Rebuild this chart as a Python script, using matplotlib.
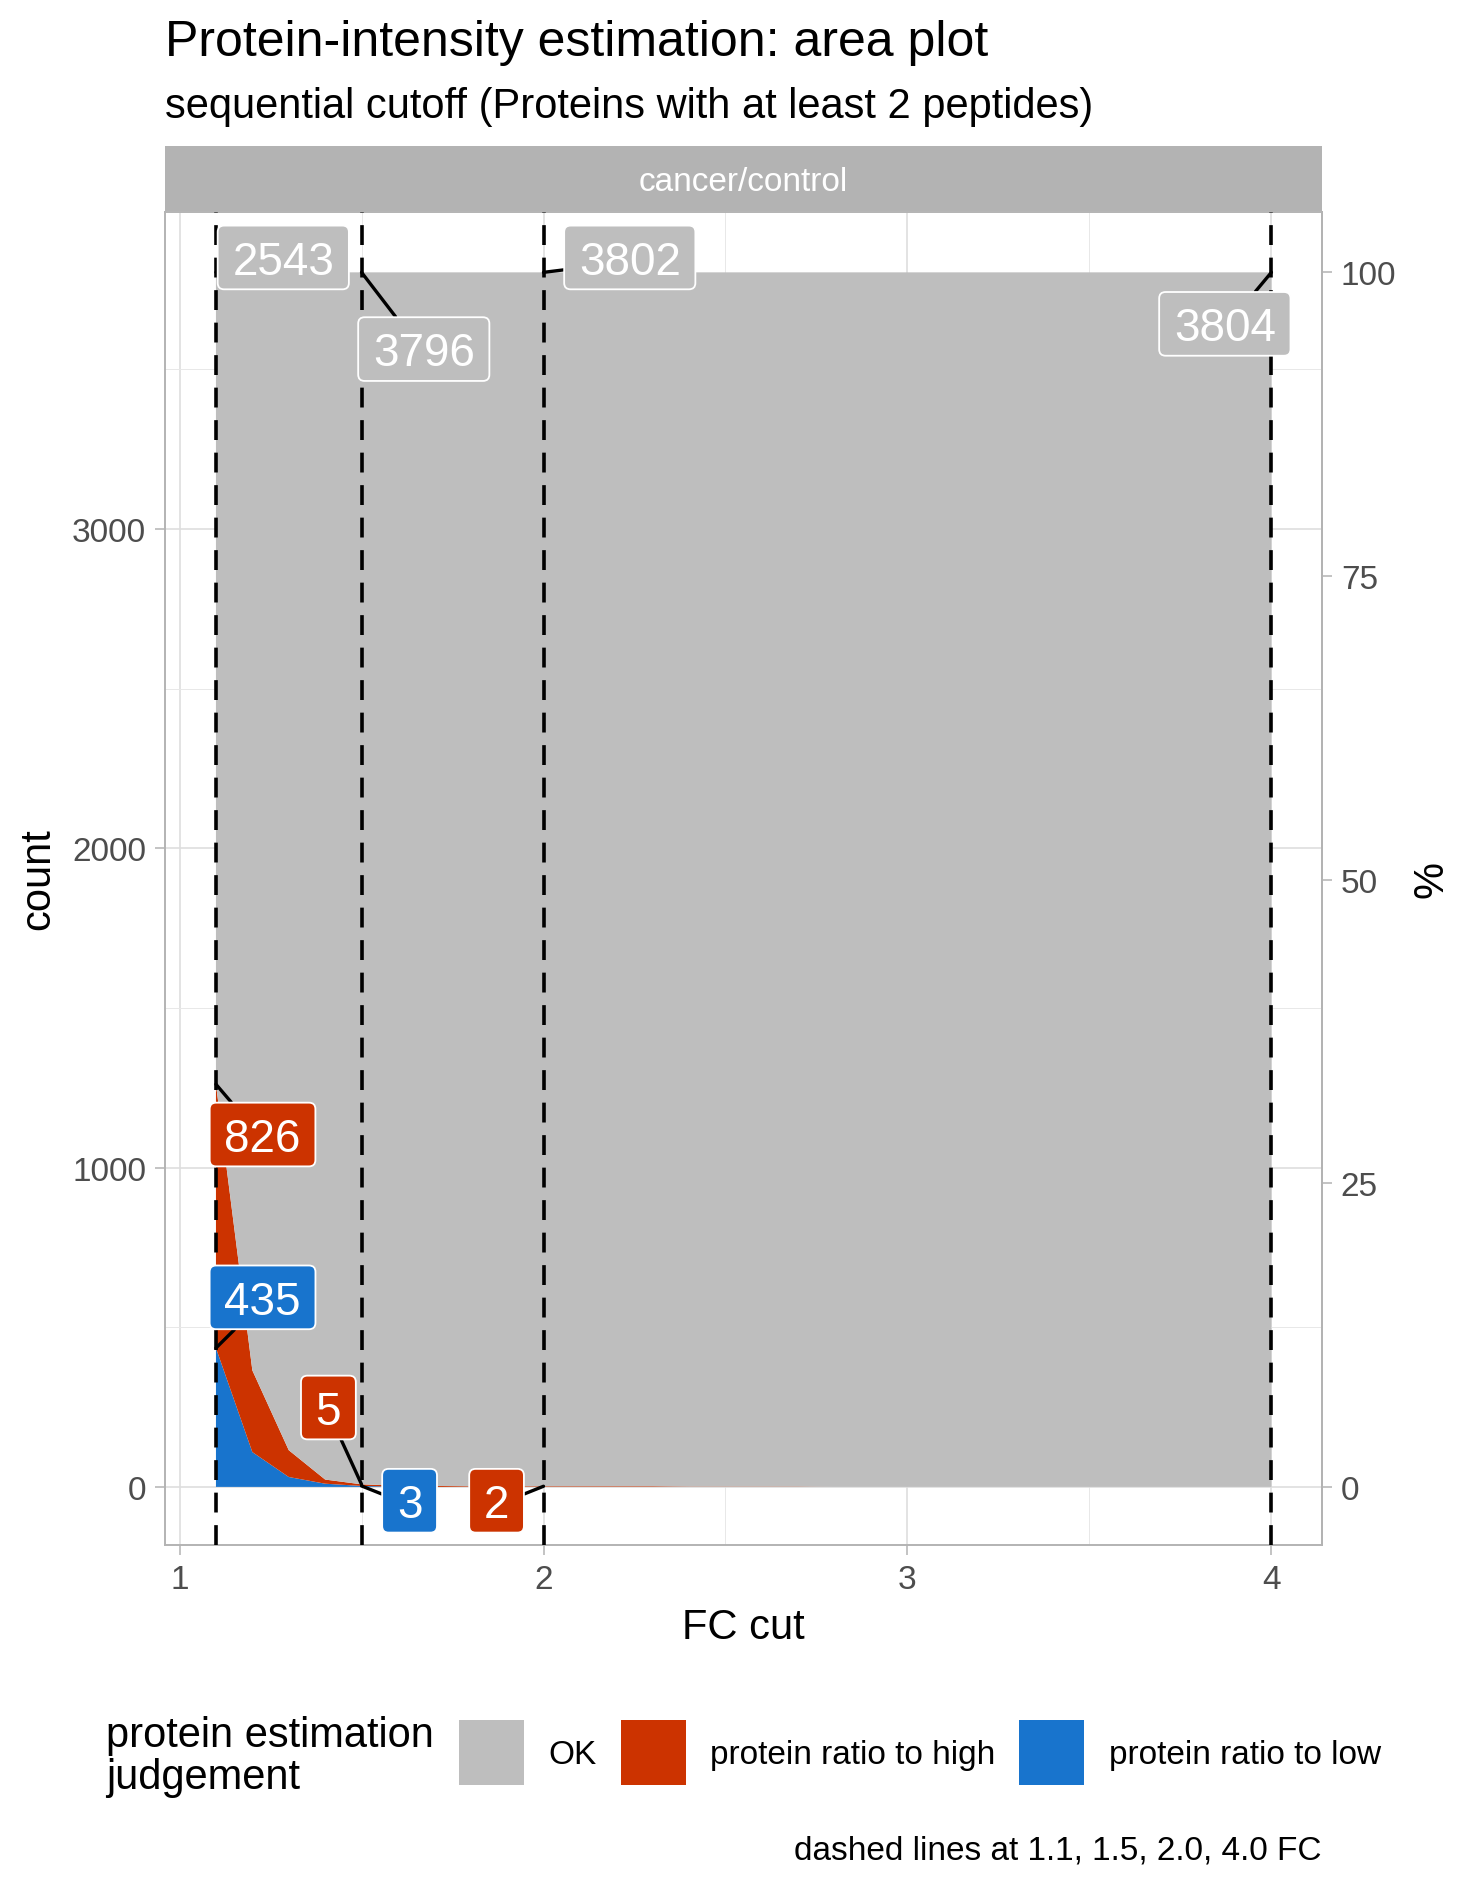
import matplotlib
matplotlib.use('Agg')
import matplotlib.pyplot as plt
from matplotlib.patches import Rectangle, BoxStyle
from matplotlib.ticker import MultipleLocator

plt.rcParams['font.family'] = ['Liberation Sans', 'DejaVu Sans']

# data
fc_cut = [1.1, 1.2, 1.3, 1.4, 1.5, 1.6, 1.7, 1.8, 1.9, 2.0,
          2.1, 2.2, 2.3, 2.4, 2.5, 2.6, 2.7, 2.8, 4.0]
n_low = [435, 109, 31, 10, 3, 1, 0, 0, 0, 0,
         0, 0, 0, 0, 0, 0, 0, 0, 0]
n_high = [826, 256, 84, 13, 5, 3, 3, 2, 2, 2,
          2, 2, 2, 1, 1, 1, 1, 0, 0]
n_ok = [2543, 3439, 3689, 3781, 3796, 3800, 3801, 3802, 3802, 3802,
        3802, 3802, 3802, 3803, 3803, 3803, 3803, 3804, 3804]
cut_lines = [1.1, 1.5, 2.0, 4.0]

cat_names = ['OK', 'protein ratio to high', 'protein ratio to low']
col_ok = '#BEBEBE'
col_high = '#CC3300'
col_low = '#1874CD'

W, H = 1469, 1890
fig = plt.figure(figsize=(W / 100, H / 100), dpi=100)


def fx(px):
    return px / W


def fy(py):
    return 1 - py / H


ax = fig.add_axes([fx(165), fy(1546), (1322 - 165) / W, (1546 - 213) / H])
ax.stackplot(fc_cut, n_low, n_high, n_ok, colors=[col_low, col_high, col_ok],
             linewidth=0, zorder=2)

for xc in cut_lines:
    ax.axvline(xc, color='black', lw=2.6, ls=(0, (5.5, 3.5)), zorder=3)


# label box like ggrepel: padding around the digits, no room for descenders
def label_box(x0, y0, width, height, mutation_size):
    p = 0.32 * mutation_size
    d = 0.2 * mutation_size
    return BoxStyle.Round(pad=0, rounding_size=0.14)(
        x0 - p, y0 + d - p, width + 2 * p, height - d - 0.01 * mutation_size + 2 * p,
        mutation_size)


# repelled label positions (data coords, text centre)
label_pos = {
    ('OK', 1.1): (1.285, 3837), ('OK', 1.5): (1.671, 3550),
    ('OK', 2.0): (2.237, 3837), ('OK', 4.0): (3.872, 3629),
    ('high', 1.1): (1.228, 1090), ('high', 1.5): (1.409, 235),
    ('high', 2.0): (1.871, -57),
    ('low', 1.1): (1.228, 580), ('low', 1.5): (1.632, -57),
}

for xc in cut_lines:
    i = fc_cut.index(xc)
    stack = [('low', n_low[i], n_low[i], col_low),
             ('high', n_high[i], n_low[i] + n_high[i], col_high),
             ('OK', n_ok[i], n_low[i] + n_high[i] + n_ok[i], col_ok)]
    for key, v, ytop, col in stack:
        if v == 0:
            continue
        lx, ly = label_pos[(key, xc)]
        ax.annotate(str(v), xy=(xc, ytop), xytext=(lx, ly), textcoords='data',
                    ha='center', va='center', fontsize=33, color='white',
                    bbox=dict(boxstyle=label_box, fc=col, ec='white', lw=1.3),
                    arrowprops=dict(arrowstyle='-', color='black', lw=2.4,
                                    shrinkA=0, shrinkB=0),
                    zorder=5, annotation_clip=False)

ax.set_xlim(0.96, 4.139)
ax.set_ylim(-182, 3993)
ax.set_xticks([1, 2, 3, 4])
ax.set_yticks([0, 1000, 2000, 3000])
ax.xaxis.set_minor_locator(MultipleLocator(0.5))
ax.yaxis.set_minor_locator(MultipleLocator(500))
ax.set_axisbelow(True)
ax.grid(which='major', color='#DEDEDE', lw=1.2)
ax.grid(which='minor', color='#E8E8E8', lw=0.7)
ax.tick_params(which='major', length=7.5, width=1.1, color='#B3B3B3',
               labelsize=24, labelcolor='#4D4D4D', pad=6)
ax.tick_params(which='minor', length=0)
for sp in ax.spines.values():
    sp.set_color('#B3B3B3')
    sp.set_linewidth(1.4)

total = n_low[0] + n_high[0] + n_ok[0]
sec = ax.secondary_yaxis('right', functions=(lambda c: c / total * 100,
                                             lambda p: p * total / 100))
sec.set_yticks([0, 25, 50, 75, 100])
sec.tick_params(length=7.5, width=1.1, color='#B3B3B3', labelsize=24,
                labelcolor='#4D4D4D', pad=6)
sec.spines['right'].set_color('#B3B3B3')
sec.spines['right'].set_linewidth(1.4)
sec.set_ylabel('%', fontsize=30)
sec.yaxis.set_label_coords(1.095, 0.5, transform=ax.transAxes)
sec.yaxis.label.set_va('center')

ax.set_xlabel('FC cut', fontsize=30)
ax.xaxis.set_label_coords(0.5, -0.0615)
ax.xaxis.label.set_va('center')
ax.set_ylabel('count', fontsize=30)
ax.yaxis.set_label_coords(-0.1098, 0.5)
ax.yaxis.label.set_va('center')

# facet strip
strip = fig.add_axes([fx(165), fy(212), (1322 - 165) / W, 65 / H])
strip.set_facecolor('#B3B3B3')
strip.set_xticks([])
strip.set_yticks([])
for sp in strip.spines.values():
    sp.set_visible(False)
strip.text(0.5, 0.45, 'cancer/control', color='white', fontsize=24,
           ha='center', va='center', transform=strip.transAxes)

# titles
fig.text(fx(165), fy(56), 'Protein-intensity estimation: area plot',
         fontsize=36, ha='left', va='baseline')
fig.text(fx(165), fy(118), 'sequential cutoff (Proteins with at least 2 peptides)',
         fontsize=30, ha='left', va='baseline')

# legend
fig.text(fx(106), fy(1757), 'protein estimation\njudgement', fontsize=30,
         ha='left', va='center', linespacing=1.05)
key_left = [459, 621, 1019]
text_left = [548, 710, 1109]
for name, col, kx, tx in zip(cat_names, [col_ok, col_high, col_low], key_left, text_left):
    fig.add_artist(Rectangle((fx(kx), fy(1786)), 65 / W, 65 / H,
                             transform=fig.transFigure, fc=col, ec='none'))
    fig.text(fx(tx), fy(1756), name, fontsize=24, ha='left', va='center')

fig.text(fx(1322), fy(1851), 'dashed lines at 1.1, 1.5, 2.0, 4.0 FC',
         fontsize=24, ha='right', va='center')

fig.savefig('out.png', dpi=100)
